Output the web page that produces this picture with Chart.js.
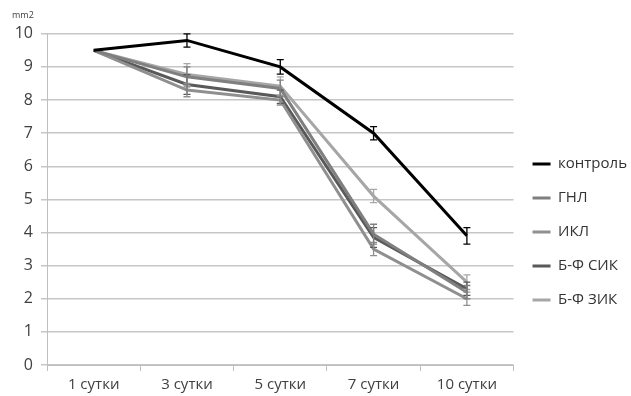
<!DOCTYPE html>
<html lang="ru">
  <head>
    <meta charset="UTF-8" />
    <title>mm2</title>
    <style>
      body { margin: 0; background: #fff; }
      #wrap { width: 631px; height: 396px; }
    </style>
  </head>
  <body>
    <div id="wrap"><canvas id="myChart"></canvas></div>
    <script src="https://cdn.jsdelivr.net/npm/chart.js@4.4.1/dist/chart.umd.min.js"></script>
    <script>
      // data
      const days = ["1 сутки", "3 сутки", "5 сутки", "7 сутки", "10 сутки"];
      const names = ["контроль", "ГНЛ", "ИКЛ", "Б-Ф СИК", "Б-Ф ЗИК"];
      const kontrol = [9.5, 9.8, 9.0, 7.0, 3.9];
      const gnl = [9.5, 8.7, 8.35, 3.95, 2.2];
      const ikl = [9.5, 8.3, 8.0, 3.5, 2.0];
      const bfSik = [9.5, 8.47, 8.1, 3.85, 2.3];
      const bfZik = [9.5, 8.77, 8.42, 5.1, 2.5];
      // error bar half-widths
      const errKontrol = [0, 0.2, 0.22, 0.2, 0.25];
      const errGnl = [0, 0.3, 0.25, 0.3, 0.2];
      const errIkl = [0, 0.2, 0.15, 0.2, 0.2];
      const errSik = [0, 0.3, 0.2, 0.3, 0.2];
      const errZik = [0, 0.33, 0.28, 0.2, 0.22];
      const yTicks = [0, 1, 2, 3, 4, 5, 6, 7, 8, 9, 10];

      const colors = ["#000000", "#7f7f7f", "#8f8f8f", "#595959", "#a6a6a6"];
      const series = [kontrol, gnl, ikl, bfSik, bfZik];
      const errs = [errKontrol, errGnl, errIkl, errSik, errZik];

      const errorBars = {
        id: "errorBars",
        afterDatasetsDraw(chart) {
          const ctx = chart.ctx;
          const x = chart.scales.x;
          const y = chart.scales.y;
          ctx.save();
          // draw in reverse so the black series ends up on top
          for (let d = chart.data.datasets.length - 1; d >= 0; d--) {
            const ds = chart.data.datasets[d];
            ctx.strokeStyle = ds.borderColor;
            ctx.lineWidth = 1.3;
            ds.data.forEach((v, i) => {
              const e = ds.err[i];
              if (!e) return;
              const px = x.getPixelForValue(i);
              const top = y.getPixelForValue(v + e);
              const bot = y.getPixelForValue(v - e);
              ctx.beginPath();
              ctx.moveTo(px, top);
              ctx.lineTo(px, bot);
              ctx.moveTo(px - 3.5, top);
              ctx.lineTo(px + 3.5, top);
              ctx.moveTo(px - 3.5, bot);
              ctx.lineTo(px + 3.5, bot);
              ctx.stroke();
            });
          }
          ctx.restore();
        },
      };

      Chart.defaults.font.family = "'Open Sans', sans-serif";
      Chart.defaults.color = "#404040";

      new Chart("myChart", {
        type: "line",
        data: {
          labels: days,
          datasets: names.map((n, i) => ({
            label: n,
            data: series[i],
            err: errs[i],
            borderColor: colors[i],
            backgroundColor: colors[i],
            borderWidth: 3,
            pointRadius: 0,
            tension: 0,
            fill: false,
          })),
        },
        options: {
          animation: false,
          responsive: true,
          maintainAspectRatio: false,
          layout: { padding: { left: 12, right: -6, top: 6, bottom: 0 } },
          plugins: {
            title: {
              display: true,
              text: "mm2",
              align: "start",
              font: { size: 9, weight: "normal" },
              color: "#404040",
              padding: { top: 4, bottom: 13 },
            },
            legend: {
              position: "right",
              title: {
                display: true,
                text: "",
                font: { size: 10 },
                padding: { top: 0, bottom: 50 },
              },
              labels: {
                boxWidth: 18,
                boxHeight: 3,
                padding: 19,
                color: "#333333",
                font: { size: 15 },
                generateLabels(chart) {
                  return Chart.defaults.plugins.legend.labels
                    .generateLabels(chart)
                    .map((l) => ({ ...l, lineWidth: 0, fillStyle: l.strokeStyle }));
                },
              },
            },
            tooltip: { enabled: false },
          },
          scales: {
            x: {
              offset: true,
              afterFit(scale) {
                scale.height = 31;
              },
              grid: {
                offset: true,
                drawOnChartArea: false,
                tickLength: 6,
                color: "#bfbfbf",
              },
              border: { color: "#bfbfbf" },
              ticks: { font: { size: 15 }, color: "#404040", padding: 5 },
            },
            y: {
              min: 0,
              max: 10,
              afterBuildTicks(scale) {
                scale.ticks = yTicks.map((v) => ({ value: v }));
              },
              afterFit(scale) {
                scale.width = 35;
              },
              grid: { color: "#c6c6c6", lineWidth: 1.5, tickLength: 6 },
              border: { color: "#bfbfbf" },
              ticks: { font: { size: 16 }, color: "#404040", padding: 8 },
            },
          },
        },
        plugins: [errorBars],
      });
    </script>
  </body>
</html>
